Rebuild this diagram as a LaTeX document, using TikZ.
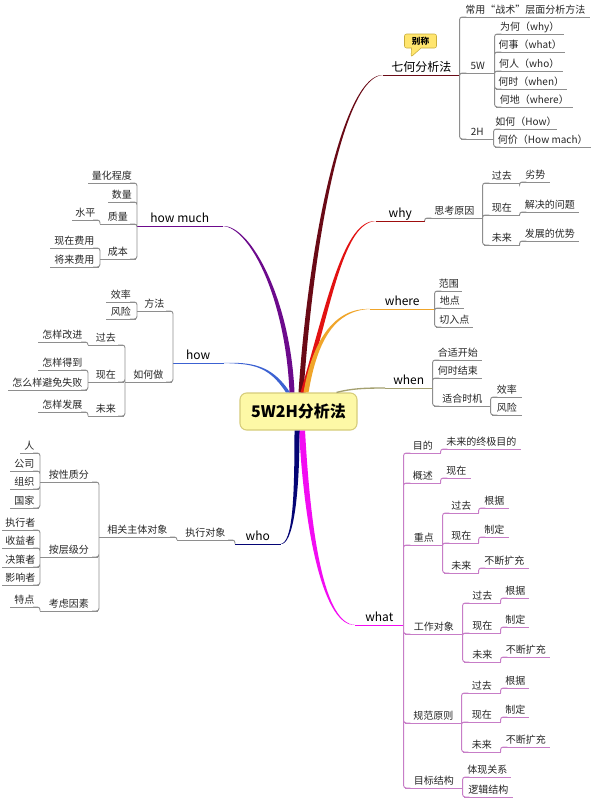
\documentclass[tikz,border=0pt]{standalone}
\usepackage{fontspec}
\newfontfamily\cjk{Noto Sans CJK SC}
\usepackage{xcolor}
\usepackage{tikz}
\usetikzlibrary{shapes.callouts}

\definecolor{ulgray}{HTML}{8E8E8E}
\definecolor{ulpink}{HTML}{C77DC7}
\definecolor{dred}{HTML}{6A0A16}
\definecolor{bred}{HTML}{E21212}
\definecolor{orng}{HTML}{F0A52A}
\definecolor{olv}{HTML}{A4A070}
\definecolor{mgnt}{HTML}{F20CF2}
\definecolor{nvy}{HTML}{050575}
\definecolor{prpl}{HTML}{6C0A8C}
\definecolor{blu}{HTML}{3C62D2}
\definecolor{hubfill}{HTML}{FDF8A6}
\definecolor{hubline}{HTML}{D6CC7A}
\definecolor{tagfill}{HTML}{FFE56E}
\definecolor{tagline}{HTML}{C9AE3C}

\tikzset{
    t/.style = {anchor=south west, inner xsep=0pt, inner ysep=1.5pt, text depth=0.9pt,
                font=\cjk\fontsize{7.5}{9}\selectfont, text=black!85,
                append after command={(\tikzlastnode.south west) edge[draw=#1, line width=0.7pt] (\tikzlastnode.south east)}},
    t/.default = ulgray,
    mt/.style = {t=#1, font=\cjk\fontsize{9}{11}\selectfont, text=black},
    wd/.style = {minimum width=#1*0.75pt},
    ln/.style = {draw=#1, line width=0.7pt, rounded corners=2pt},
    ln/.default = ulgray,
    hub/.style = {draw=hubline, fill=hubfill, line width=0.8pt, rounded corners=5pt,
                  minimum width=87.75pt, minimum height=27.75pt,
                  font=\cjk\bfseries\fontsize{12}{14}\selectfont},
    tag/.style = {rectangle callout, draw=tagline, fill=tagfill, rounded corners=1.5pt,
                  minimum width=24pt, minimum height=10.5pt, inner sep=1pt,
                  font=\cjk\bfseries\fontsize{6.5}{8}\selectfont}
}

\begin{document}
\begin{tikzpicture}[x=0.75pt, y=-0.75pt]
    \path[use as bounding box, fill=white] (0,0) rectangle (593,800);

    \node[hub] (c) at (298.5,411.5) {5W2H分析法}; %centre

    % 七何分析法
    \node[mt=dred, wd=76] (qh) at (383,75) {七何分析法};
    \node[tag, callout absolute pointer={(411,57)}] (bc) at (420.5,41) {别称};
    \node[t, wd=128] (qa) at (461,17) {常用“战术”层面分析方法};
    \node[t, wd=33] (q5w) at (461,73) {5W};
    \node[t, wd=67] (qw1) at (496,34) {为何（why）};
    \node[t, wd=68] (qw2) at (496,52) {何事（what）};
    \node[t, wd=66] (qw3) at (496,71) {何人（who）};
    \node[t, wd=70] (qw4) at (496,89) {何时（when）};
    \node[t, wd=76] (qw5) at (496,107) {何地（where）};
    \node[t, wd=32] (q2h) at (461,139) {2H};
    \node[t, wd=60] (qh1) at (495,129) {如何（How）};
    \node[t, wd=95] (qh2) at (495,147) {何价（How mach）};
    \draw[ln] (qh.south east) |- ([xshift=4pt]qa.south west)
              (qh.south east) |- ([xshift=4pt]q5w.south west)
              (qh.south east) |- ([xshift=4pt]q2h.south west);
    \draw[ln] (q5w.south east) |- ([xshift=4pt]qw1.south west)
              (q5w.south east) |- ([xshift=4pt]qw2.south west)
              (q5w.south east) |- ([xshift=4pt]qw3.south west)
              (q5w.south east) |- ([xshift=4pt]qw4.south west)
              (q5w.south east) |- ([xshift=4pt]qw5.south west);
    \draw[ln] (q2h.south east) |- ([xshift=4pt]qh1.south west)
              (q2h.south east) |- ([xshift=4pt]qh2.south west);

    % why
    \node[mt=bred!70!black, wd=48] (why) at (376,221) {why};
    \node[t, wd=56] (sk) at (426,218) {思考原因};
    \node[t, wd=35] (sk1) at (484,183) {过去};
    \node[t, wd=35] (sk2) at (484,215) {现在};
    \node[t, wd=35] (sk3) at (484,245) {未来};
    \node[t, wd=28] (sk1a) at (521,182) {劣势};
    \node[t, wd=57] (sk2a) at (521,212) {解决的问题};
    \node[t, wd=57] (sk3a) at (521,241) {发展的优势};
    \draw[ln] (why.south east) |- ([xshift=4pt]sk.south west);
    \draw[ln] (sk.south east) |- ([xshift=4pt]sk1.south west)
              (sk.south east) |- ([xshift=4pt]sk2.south west)
              (sk.south east) |- ([xshift=4pt]sk3.south west);
    \draw[ln] (sk1.south east) |- ([xshift=4pt]sk1a.south west)
              (sk2.south east) |- ([xshift=4pt]sk2a.south west)
              (sk3.south east) |- ([xshift=4pt]sk3a.south west);

    % where
    \node[mt=orng, wd=64] (where) at (370,309) {where};
    \node[t, wd=25] (wh1) at (436,291) {范围};
    \node[t, wd=27] (wh2) at (436,308) {地点};
    \node[t, wd=36] (wh3) at (436,327) {切入点};
    \draw[ln] (where.south east) |- ([xshift=4pt]wh1.south west)
              (where.south east) |- ([xshift=4pt]wh2.south west)
              (where.south east) |- ([xshift=4pt]wh3.south west);

    % when
    \node[mt=olv, wd=47] (when) at (385,388) {when};
    \node[t, wd=47] (wn1) at (434,360) {合适开始};
    \node[t, wd=47] (wn2) at (434,378) {何时结束};
    \node[t, wd=56] (wn3) at (434,406) {适合时机};
    \node[t, wd=29] (wn3a) at (492,397) {效率};
    \node[t, wd=29] (wn3b) at (492,415) {风险};
    \draw[ln] (when.south east) |- ([xshift=4pt]wn1.south west)
              (when.south east) |- ([xshift=4pt]wn2.south west)
              (when.south east) |- ([xshift=4pt]wn3.south west);
    \draw[ln] (wn3.south east) |- ([xshift=4pt]wn3a.south west)
              (wn3.south east) |- ([xshift=4pt]wn3b.south west);

    % what
    \node[mt=mgnt, wd=48] (what) at (355,625) {what};
    \node[t=ulpink, wd=35] (wt1) at (405,453) {目的};
    \node[t=ulpink, wd=78] (wt1a) at (442,449) {未来的终极目的};
    \node[t=ulpink, wd=35] (wt2) at (405,483) {概述};
    \node[t=ulpink, wd=28] (wt2a) at (442,478) {现在};
    \node[t=ulpink, wd=37] (wt3) at (405,545) {重点};
    \node[t=ulpink, wd=34] (wt3a) at (444,513) {过去};
    \node[t=ulpink, wd=34] (wt3b) at (444,543) {现在};
    \node[t=ulpink, wd=34] (wt3c) at (444,573) {未来};
    \node[t=ulpink, wd=28] (wt3a1) at (480,508) {根据};
    \node[t=ulpink, wd=28] (wt3b1) at (480,537) {制定};
    \node[t=ulpink, wd=48] (wt3c1) at (480,568) {不断扩充};
    \node[t=ulpink, wd=57] (wt4) at (405,634) {工作对象};
    \node[t=ulpink, wd=36] (wt4a) at (464,603) {过去};
    \node[t=ulpink, wd=36] (wt4b) at (464,633) {现在};
    \node[t=ulpink, wd=36] (wt4c) at (464,662) {未来};
    \node[t=ulpink, wd=26] (wt4a1) at (502,598) {根据};
    \node[t=ulpink, wd=26] (wt4b1) at (502,627) {制定};
    \node[t=ulpink, wd=47] (wt4c1) at (502,657) {不断扩充};
    \node[t=ulpink, wd=56] (wt5) at (405,723) {规范原则};
    \node[t=ulpink, wd=37] (wt5a) at (463,693) {过去};
    \node[t=ulpink, wd=37] (wt5b) at (463,722) {现在};
    \node[t=ulpink, wd=37] (wt5c) at (463,752) {未来};
    \node[t=ulpink, wd=26] (wt5a1) at (502,688) {根据};
    \node[t=ulpink, wd=26] (wt5b1) at (502,717) {制定};
    \node[t=ulpink, wd=47] (wt5c1) at (502,747) {不断扩充};
    \node[t=ulpink, wd=57] (wt6) at (405,788) {目标结构};
    \node[t=ulpink, wd=46] (wt6a) at (464,777) {体现关系};
    \node[t=ulpink, wd=48] (wt6b) at (464,797) {逻辑结构};
    \draw[ln=ulpink] (what.south east) |- ([xshift=4pt]wt1.south west)
                     (what.south east) |- ([xshift=4pt]wt2.south west)
                     (what.south east) |- ([xshift=4pt]wt3.south west)
                     (what.south east) |- ([xshift=4pt]wt4.south west)
                     (what.south east) |- ([xshift=4pt]wt5.south west)
                     (what.south east) |- ([xshift=4pt]wt6.south west);
    \draw[ln=ulpink] (wt1.south east) |- ([xshift=4pt]wt1a.south west)
                     (wt2.south east) |- ([xshift=4pt]wt2a.south west);
    \draw[ln=ulpink] (wt3.south east) |- ([xshift=4pt]wt3a.south west)
                     (wt3.south east) |- ([xshift=4pt]wt3b.south west)
                     (wt3.south east) |- ([xshift=4pt]wt3c.south west)
                     (wt3a.south east) |- ([xshift=4pt]wt3a1.south west)
                     (wt3b.south east) |- ([xshift=4pt]wt3b1.south west)
                     (wt3c.south east) |- ([xshift=4pt]wt3c1.south west);
    \draw[ln=ulpink] (wt4.south east) |- ([xshift=4pt]wt4a.south west)
                     (wt4.south east) |- ([xshift=4pt]wt4b.south west)
                     (wt4.south east) |- ([xshift=4pt]wt4c.south west)
                     (wt4a.south east) |- ([xshift=4pt]wt4a1.south west)
                     (wt4b.south east) |- ([xshift=4pt]wt4b1.south west)
                     (wt4c.south east) |- ([xshift=4pt]wt4c1.south west);
    \draw[ln=ulpink] (wt5.south east) |- ([xshift=4pt]wt5a.south west)
                     (wt5.south east) |- ([xshift=4pt]wt5b.south west)
                     (wt5.south east) |- ([xshift=4pt]wt5c.south west)
                     (wt5a.south east) |- ([xshift=4pt]wt5a1.south west)
                     (wt5b.south east) |- ([xshift=4pt]wt5b1.south west)
                     (wt5c.south east) |- ([xshift=4pt]wt5c1.south west);
    \draw[ln=ulpink] (wt6.south east) |- ([xshift=4pt]wt6a.south west)
                     (wt6.south east) |- ([xshift=4pt]wt6b.south west);

    % how much
    \node[mt=prpl, wd=85] (hm) at (137,226) {how much};
    \node[t, wd=47] (hm1) at (88,183) {量化程度};
    \node[t, wd=27] (hm2) at (108,202) {数量};
    \node[t, wd=35] (hm3) at (100,224) {质量};
    \node[t, wd=26] (hm3a) at (72,220) {水平};
    \node[t, wd=35] (hm4) at (100,259) {成本};
    \node[t, wd=48] (hm4a) at (50,248) {现在费用};
    \node[t, wd=48] (hm4b) at (50,267) {将来费用};
    \draw[ln] (hm.south west) |- ([xshift=-4pt]hm1.south east)
              (hm.south west) |- ([xshift=-4pt]hm2.south east)
              (hm.south west) |- ([xshift=-4pt]hm3.south east)
              (hm.south west) |- ([xshift=-4pt]hm4.south east);
    \draw[ln] (hm3.south west) |- ([xshift=-4pt]hm3a.south east)
              (hm4.south west) |- ([xshift=-4pt]hm4a.south east)
              (hm4.south west) |- ([xshift=-4pt]hm4b.south east);

    % how
    \node[mt=blu, wd=50] (how) at (173,363) {how};
    \node[t, wd=34] (hw1) at (137,311) {方法};
    \node[t, wd=29] (hw1a) at (106,302) {效率};
    \node[t, wd=29] (hw1b) at (106,319) {风险};
    \node[t, wd=46] (hw2) at (125,382) {如何做};
    \node[t, wd=35] (hw2a) at (88,345) {过去};
    \node[t, wd=35] (hw2b) at (88,382) {现在};
    \node[t, wd=35] (hw2c) at (88,416) {未来};
    \node[t, wd=48] (hw2a1) at (38,342) {怎样改进};
    \node[t, wd=48] (hw2b1) at (38,370) {怎样得到};
    \node[t, wd=78] (hw2b2) at (8,390) {怎么样避免失败};
    \node[t, wd=48] (hw2c1) at (38,412) {怎样发展};
    \draw[ln] (how.south west) |- ([xshift=-4pt]hw1.south east)
              (how.south west) |- ([xshift=-4pt]hw2.south east);
    \draw[ln] (hw1.south west) |- ([xshift=-4pt]hw1a.south east)
              (hw1.south west) |- ([xshift=-4pt]hw1b.south east);
    \draw[ln] (hw2.south west) |- ([xshift=-4pt]hw2a.south east)
              (hw2.south west) |- ([xshift=-4pt]hw2b.south east)
              (hw2.south west) |- ([xshift=-4pt]hw2c.south east);
    \draw[ln] (hw2a.south west) |- ([xshift=-4pt]hw2a1.south east)
              (hw2b.south west) |- ([xshift=-4pt]hw2b1.south east)
              (hw2b.south west) |- ([xshift=-4pt]hw2b2.south east)
              (hw2c.south west) |- ([xshift=-4pt]hw2c1.south east);

    % who
    \node[mt=nvy, wd=45] (who) at (235,544) {who};
    \node[t, wd=56] (wo1) at (177,540) {执行对象};
    \node[t, wd=76] (wo2) at (99,537) {相关主体对象};
    \node[t, wd=57] (wo3) at (40,482) {按性质分};
    \node[t, wd=57] (wo4) at (40,557) {按层级分};
    \node[t, wd=57] (wo5) at (40,611) {考虑因素};
    \node[t, wd=18] (wo3a) at (20,453) {人};
    \node[t, wd=28] (wo3b) at (10,471) {公司};
    \node[t, wd=28] (wo3c) at (10,489) {组织};
    \node[t, wd=28] (wo3d) at (10,508) {国家};
    \node[t, wd=36] (wo4a) at (2,530) {执行者};
    \node[t, wd=36] (wo4b) at (2,548) {收益者};
    \node[t, wd=36] (wo4c) at (2,567) {决策者};
    \node[t, wd=36] (wo4d) at (2,585) {影响者};
    \node[t, wd=28] (wo5a) at (10,607) {特点};
    \draw[ln] (who.south west) |- ([xshift=-4pt]wo1.south east)
              (wo1.south west) |- ([xshift=-4pt]wo2.south east);
    \draw[ln] (wo2.south west) |- ([xshift=-4pt]wo3.south east)
              (wo2.south west) |- ([xshift=-4pt]wo4.south east)
              (wo2.south west) |- ([xshift=-4pt]wo5.south east);
    \draw[ln] (wo3.south west) |- ([xshift=-4pt]wo3a.south east)
              (wo3.south west) |- ([xshift=-4pt]wo3b.south east)
              (wo3.south west) |- ([xshift=-4pt]wo3c.south east)
              (wo3.south west) |- ([xshift=-4pt]wo3d.south east);
    \draw[ln] (wo4.south west) |- ([xshift=-4pt]wo4a.south east)
              (wo4.south west) |- ([xshift=-4pt]wo4b.south east)
              (wo4.south west) |- ([xshift=-4pt]wo4c.south east)
              (wo4.south west) |- ([xshift=-4pt]wo4d.south east)
              (wo5.south west) |- ([xshift=-4pt]wo5a.south east);

    % tapered branches out of the centre
    \fill[dred] (c.north) .. controls +(11,-163) and +(-38,-1.5) .. (qh.south west)
        .. controls +(-38,1.5) and +(11,-163) .. ([xshift=3.75pt]c.north) -- cycle;
    \fill[bred] ([xshift=1.5pt]c.north) .. controls +(27,-93) and +(-32,-1.5) .. (why.south west)
        .. controls +(-32,1.5) and +(27,-93) .. ([xshift=5.25pt]c.north) -- cycle;
    \fill[orng] ([xshift=3.75pt]c.north) .. controls +(9,-53) and +(-35,-1.5) .. (where.south west)
        .. controls +(-35,1.5) and +(9,-53) .. ([xshift=7.5pt]c.north) -- cycle;
    \fill[prpl] ([xshift=-3pt]c.north) .. controls +(-4,-93) and +(28,-1.5) .. (hm.south east)
        .. controls +(28,1.5) and +(-4,-93) .. ([xshift=-6.75pt]c.north) -- cycle;
    \fill[blu] ([xshift=-6.4pt]c.north) .. controls +(-18,-28) and +(27,-1) .. (how.south east)
        .. controls +(27,1) and +(-18,-28) .. ([xshift=-9.4pt]c.north) -- cycle;
    \draw[olv, line width=1pt] ([xshift=28.5pt]c.north) .. controls +(15,-4) and +(-20,0) .. (when.south west);
    \fill[mgnt] ([xshift=0.4pt]c.south) .. controls +(6,110) and +(-30,1.5) .. (what.south west)
        .. controls +(-30,-1.5) and +(6,110) .. ([xshift=4.9pt]c.south) -- cycle;
    \fill[nvy] ([xshift=0.75pt]c.south) .. controls +(0,70) and +(12,1.5) .. (who.south east)
        .. controls +(12,-1.5) and +(0,70) .. ([xshift=-3pt]c.south) -- cycle;
\end{tikzpicture}
\end{document}
